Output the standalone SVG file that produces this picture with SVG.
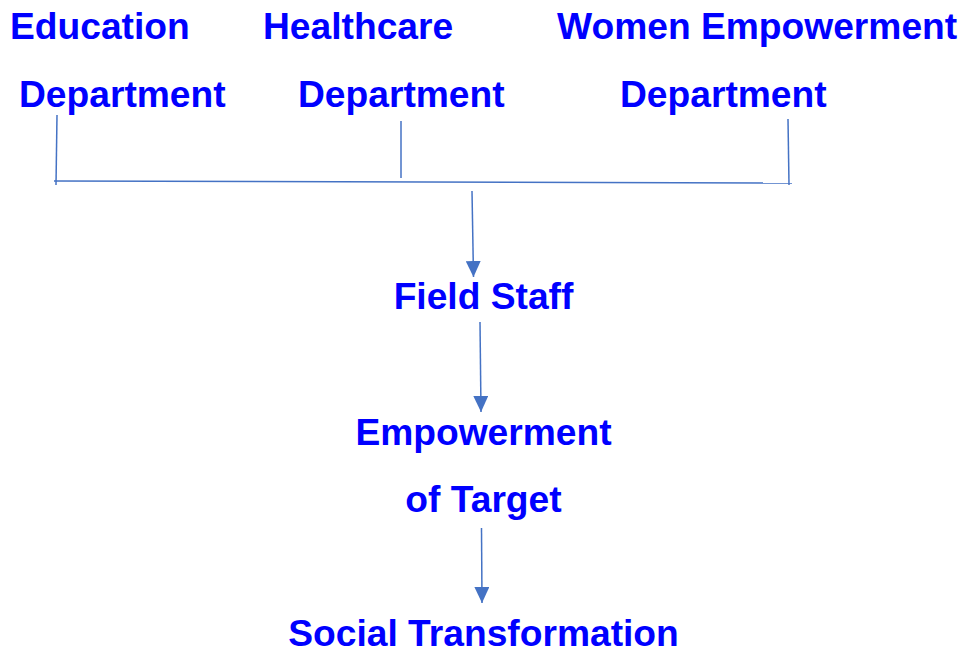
<svg xmlns="http://www.w3.org/2000/svg" width="965" height="653" viewBox="0 0 965 653">
<style>
.t{font-family:"Liberation Sans",Arial,sans-serif;font-weight:bold;font-size:37.2px;fill:#0000FF}
.ln{stroke:#4472C4;stroke-width:1.5;fill:none}
</style>
<defs>
<marker id="ah2" viewBox="0 0 16 15" refX="16" refY="7.5" markerWidth="16" markerHeight="15" markerUnits="userSpaceOnUse" orient="auto">
<path d="M0,0 L16,7.5 L0,15 z" fill="#4472C4"/>
</marker>
</defs>
<rect width="965" height="653" fill="#fff"/>
<g id="education"><text class="t" x="10" y="39">Education</text><text class="t" x="19" y="107">Department</text></g>
<g id="healthcare"><text class="t" x="263" y="39">Healthcare</text><text class="t" x="298" y="107">Department</text></g>
<g id="women"><text class="t" x="557" y="39">Women Empowerment</text><text class="t" x="620" y="107">Department</text></g>
<g id="fieldstaff"><text class="t" x="483.5" y="309" text-anchor="middle">Field Staff</text></g>
<g id="empowerment"><text class="t" x="483.5" y="445" text-anchor="middle">Empowerment</text><text class="t" x="483.5" y="512" text-anchor="middle">of Target</text></g>
<g id="social"><text class="t" x="483.5" y="646" text-anchor="middle">Social Transformation</text></g>
<g id="connectors">
<line class="ln" x1="57" y1="115" x2="56" y2="185"/>
<line class="ln" x1="401" y1="121" x2="401" y2="178"/>
<line class="ln" x1="788" y1="119" x2="789" y2="185"/>
<line class="ln" x1="54" y1="181" x2="792" y2="183"/>
<line class="ln" x1="472" y1="191" x2="473.5" y2="277" marker-end="url(#ah2)"/>
<line class="ln" x1="480" y1="322" x2="481" y2="412" marker-end="url(#ah2)"/>
<line class="ln" x1="481.5" y1="528" x2="482" y2="603" marker-end="url(#ah2)"/>
</g>
</svg>
